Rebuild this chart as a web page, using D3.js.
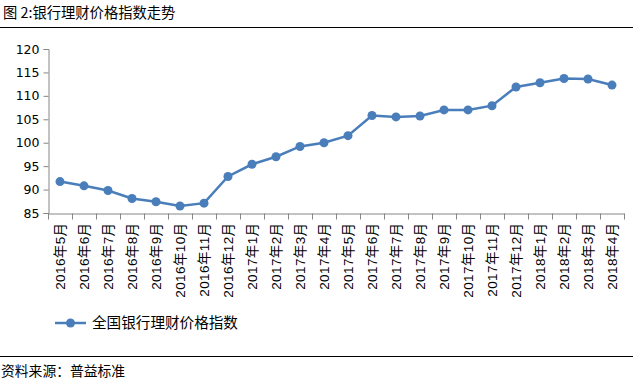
<!DOCTYPE html>
<html><head><meta charset="utf-8">
<script src="https://cdn.jsdelivr.net/npm/d3@7"></script>
<style>
body{margin:0;background:#fff;}
svg{display:block;font-family:"Noto Sans CJK SC","Liberation Sans",sans-serif;}
</style></head>
<body><svg id="c" width="633" height="383"></svg>
<script>
const categories = ["2016年5月","2016年6月","2016年7月","2016年8月","2016年9月","2016年10月","2016年11月","2016年12月","2017年1月","2017年2月","2017年3月","2017年4月","2017年5月","2017年6月","2017年7月","2017年8月","2017年9月","2017年10月","2017年11月","2017年12月","2018年1月","2018年2月","2018年3月","2018年4月"];
const values = [91.7,90.8,89.8,88.1,87.4,86.5,87.1,92.8,95.4,97.0,99.2,100.0,101.5,105.8,105.5,105.7,107.0,107.0,107.9,111.9,112.8,113.7,113.6,112.3];
const yTicks = [85,90,95,100,105,110,115,120];
const seriesName = "全国银行理财价格指数";
const title = "图 2:银行理财价格指数走势";
const source = "资料来源：普益标准";

const svg = d3.select("#c");
const color = "#4A7EBB", axisColor = "#868686";

svg.append("text").attr("x",3).attr("y",18).attr("font-size",14.3).attr("fill","#000").text(title);
svg.append("line").attr("x1",0).attr("x2",633).attr("y1",27.5).attr("y2",27.5).attr("stroke","#000").attr("stroke-width",1);

const x = d3.scaleBand().domain(categories).range([48,624]);
const y = d3.scaleLinear().domain([85,120]).range([213,49]);

const gy = svg.append("g").attr("transform","translate(48.5,0)")
  .call(d3.axisLeft(y).tickValues(yTicks).tickSize(5).tickPadding(4));
gy.select(".domain").attr("stroke",axisColor);
gy.selectAll(".tick line").attr("stroke",axisColor);
gy.selectAll("text").attr("fill","#000").attr("font-family","'DejaVu Sans',sans-serif").attr("font-size",12.5);

const gx = svg.append("g").attr("transform","translate(0,213.5)")
  .call(d3.axisBottom(x).tickSize(0).tickFormat(d=>d));
gx.select(".domain").attr("stroke",axisColor);
gx.selectAll(".tick text").attr("transform","rotate(-90)").attr("text-anchor","end")
  .attr("x",-9).attr("y",0).attr("dy","0.35em").attr("font-size",13.5)
  .attr("font-family","'Liberation Sans','Noto Sans CJK SC',sans-serif")
  .attr("letter-spacing",0.4).attr("fill","#000");
// boundary ticks
gx.selectAll(".bt").data(d3.range(categories.length+1)).enter().append("line")
  .attr("x1",i=>48.5+i*x.step()).attr("x2",i=>48.5+i*x.step())
  .attr("y1",0).attr("y2",6).attr("stroke",axisColor);

const line = d3.line().x((d,i)=>x(categories[i])+x.bandwidth()/2).y(d=>y(d));
svg.append("path").datum(values).attr("d",line).attr("fill","none").attr("stroke",color).attr("stroke-width",2.5);
svg.selectAll(".pt").data(values).enter().append("circle")
  .attr("cx",(d,i)=>x(categories[i])+x.bandwidth()/2).attr("cy",d=>y(d)).attr("r",4.5).attr("fill",color);

// legend
const lg = svg.append("g").attr("transform","translate(55,323)");
lg.append("line").attr("x1",0).attr("x2",31).attr("y1",0).attr("y2",0).attr("stroke",color).attr("stroke-width",2.5);
lg.append("circle").attr("cx",15.5).attr("cy",0).attr("r",4.5).attr("fill",color);
lg.append("text").attr("x",37).attr("y",0).attr("dy","0.35em").attr("font-size",14.6).text(seriesName);

svg.append("line").attr("x1",0).attr("x2",633).attr("y1",356.5).attr("y2",356.5).attr("stroke","#000");
svg.append("text").attr("x",1).attr("y",376).attr("font-size",13.8).text(source);
</script></body></html>
